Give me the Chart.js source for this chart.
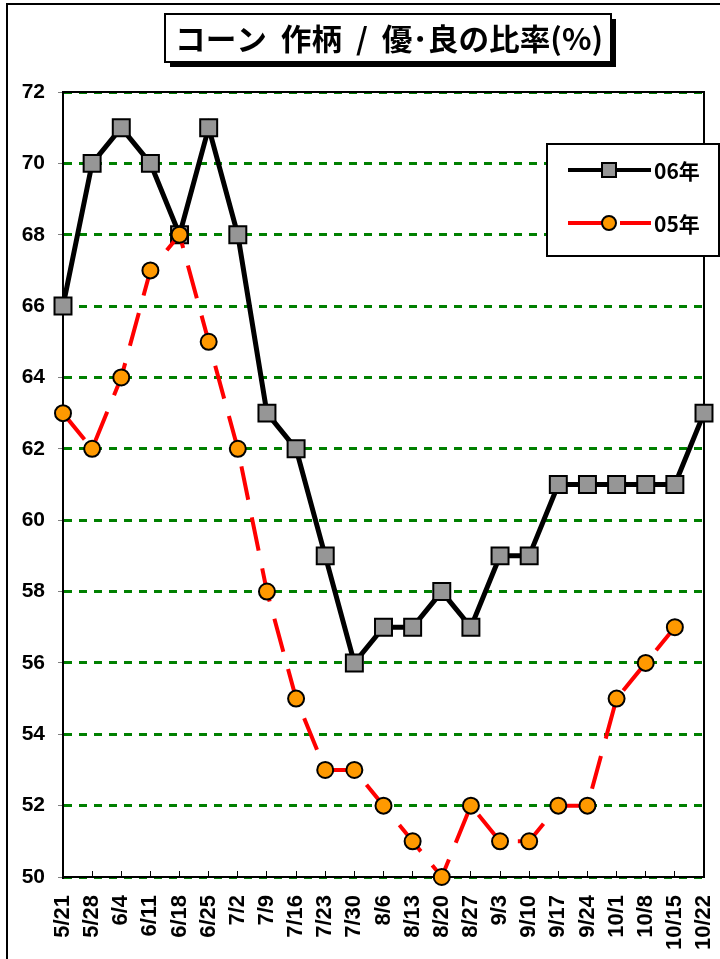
<!DOCTYPE html>
<html>
<head>
<meta charset="utf-8">
<script src="https://cdn.jsdelivr.net/npm/chart.js@4.4.0/dist/chart.umd.min.js"></script>
<style>
  html, body { margin: 0; padding: 0; background: #fff; }
  #wrap { width: 720px; height: 959px; }
</style>
</head>
<body>
<div id="wrap"><canvas id="cornChart" width="720" height="959"></canvas></div>
<script>
// データ
const weeks = ['5/21','5/28','6/4','6/11','6/18','6/25','7/2','7/9','7/16','7/23','7/30','8/6','8/13','8/20','8/27','9/3','9/10','9/17','9/24','10/1','10/8','10/15','10/22'];
const rate06 = [66,70,71,70,68,71,68,63,62,59,56,57,57,58,57,59,59,61,61,61,61,61,63];
const rate05 = [63,62,64,67,68,65,62,58,55,53,53,52,51,50,52,51,51,52,52,55,56,57,null];
const seriesNames = ['06年', '05年'];
const yMin = 50, yMax = 72, yStep = 2;
const titleText = 'コーン  作柄  /  優･良の比率(%)';

const fontLatin = "'Liberation Sans', Arial, sans-serif";
const fontJp = "'Noto Sans CJK JP', 'Liberation Sans', sans-serif";

// 枠・タイトル・凡例を描くプラグイン
const decorPlugin = {
	id: 'decor',
	beforeDatasetsDraw(chart) {
		const ctx = chart.ctx;
		const a = chart.chartArea;
		ctx.save();
		ctx.strokeStyle = '#000';
		ctx.lineWidth = 2;
		ctx.strokeRect(a.left, a.top, a.right - a.left, a.bottom - a.top);
		ctx.restore();
	},
	afterDraw(chart) {
		const ctx = chart.ctx;
		ctx.save();
		// 外枠
		ctx.strokeStyle = '#000';
		ctx.lineWidth = 2;
		ctx.beginPath();
		ctx.moveTo(7, 960);
		ctx.lineTo(7, 4);
		ctx.lineTo(722, 4);
		ctx.stroke();

		// タイトル
		const tx = 165, ty = 14, tw = 446, th = 48;
		ctx.fillStyle = '#000';
		ctx.fillRect(tx + 5, ty + 5, tw, th);
		ctx.fillStyle = '#fff';
		ctx.fillRect(tx, ty, tw, th);
		ctx.lineWidth = 2;
		ctx.strokeRect(tx, ty, tw, th);
		ctx.fillStyle = '#000';
		ctx.font = 'bold 30px ' + fontJp;
		ctx.textBaseline = 'middle';
		ctx.textAlign = 'left';
		const w = ctx.measureText(titleText).width;
		const target = 428;
		ctx.translate(tx + 10, ty + th / 2 + 1);
		ctx.scale(target / w, 1);
		ctx.fillText(titleText, 0, 0);
		ctx.setTransform(1, 0, 0, 1, 0, 0);

		// 凡例
		const lx = 547, ly = 144, lw = 172, lh = 112;
		ctx.fillStyle = '#fff';
		ctx.fillRect(lx, ly, lw, lh);
		ctx.strokeStyle = '#000';
		ctx.lineWidth = 2;
		ctx.strokeRect(lx, ly, lw, lh);

		const ds = chart.data.datasets;
		const rows = [
			{ d: ds[1], y: 170 },
			{ d: ds[0], y: 223 }
		];
		rows.forEach(r => {
			ctx.strokeStyle = r.d.borderColor;
			ctx.lineWidth = 4;
			ctx.setLineDash(r.d.borderDash || []);
			ctx.beginPath();
			ctx.moveTo(568, r.y);
			ctx.lineTo(651, r.y);
			ctx.stroke();
			ctx.setLineDash([]);
			ctx.fillStyle = r.d.pointBackgroundColor;
			ctx.strokeStyle = '#000';
			ctx.lineWidth = 2;
			if (r.d.pointStyle === 'rect') {
				ctx.fillRect(602, r.y - 7, 14, 14);
				ctx.strokeRect(602, r.y - 7, 14, 14);
			} else {
				ctx.beginPath();
				ctx.arc(609, r.y, 7, 0, Math.PI * 2);
				ctx.fill();
				ctx.stroke();
			}
			ctx.fillStyle = '#000';
			ctx.font = 'bold 21px ' + fontJp;
			ctx.textAlign = 'left';
			ctx.textBaseline = 'middle';
			ctx.fillText(r.d.label, 654, r.y + 1);
		});
		ctx.restore();
	}
};

const ctx = document.getElementById('cornChart').getContext('2d');
const cornChart = new Chart(ctx, {
	type: 'line',
	data: {
		labels: weeks,
		datasets: [{
			label: seriesNames[1],
			data: rate05,
			borderColor: '#ff0000',
			borderWidth: 4,
			borderDash: [34, 18],
			pointStyle: 'circle',
			pointRadius: 8,
			pointBorderWidth: 2,
			pointBorderColor: '#000',
			pointBackgroundColor: '#ff9900',
			tension: 0,
			clip: false,
			order: 0
		}, {
			label: seriesNames[0],
			data: rate06,
			borderColor: '#000',
			borderWidth: 5,
			pointStyle: 'rect',
			pointRadius: 12,
			pointBorderWidth: 2,
			pointBorderColor: '#000',
			pointBackgroundColor: '#969696',
			tension: 0,
			clip: false,
			order: 1
		}]
	},
	options: {
		responsive: false,
		animation: false,
		layout: { padding: { top: 92, right: 16, left: 0, bottom: 0 } },
		plugins: {
			legend: { display: false },
			tooltip: { enabled: false }
		},
		scales: {
			x: {
				offset: false,
				border: { display: true, color: '#000', width: 2 },
				grid: {
					drawOnChartArea: false,
					drawTicks: true,
					tickLength: -6,
					tickColor: '#000',
					tickWidth: 1
				},
				ticks: {
					autoSkip: false,
					maxRotation: 90,
					minRotation: 90,
					padding: 24,
					color: '#000',
					font: { family: fontLatin, size: 22, weight: 'bold' }
				},
				afterFit(scale) {
					scale.height = 82;
					scale.paddingLeft = 0;
					scale.paddingRight = 0;
				}
			},
			y: {
				min: yMin,
				max: yMax,
				border: { display: true, color: '#000', width: 2, dash: [8, 7] },
				grid: {
					color: '#008000',
					lineWidth: 3,
					drawTicks: true,
					tickLength: 5,
					tickColor: '#808080',
					tickWidth: 1,
					tickBorderDash: []
				},
				ticks: {
					stepSize: yStep,
					padding: 13,
					color: '#000',
					font: { family: fontLatin, size: 21, weight: 'bold' }
				},
				afterFit(scale) {
					scale.width = 63;
					scale.paddingTop = 0;
					scale.paddingBottom = 0;
				}
			}
		}
	},
	plugins: [decorPlugin]
});
</script>
</body>
</html>
